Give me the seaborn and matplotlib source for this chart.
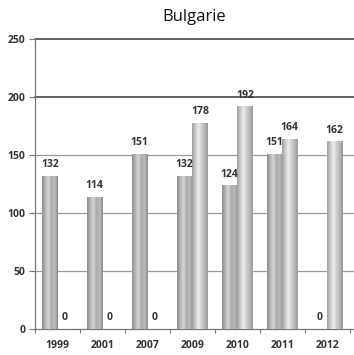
import numpy as np
import pandas as pd
import matplotlib
matplotlib.use("Agg")
import matplotlib.pyplot as plt
from matplotlib.colors import LinearSegmentedColormap
import seaborn as sns

# Data
years = ["1999", "2001", "2007", "2009", "2010", "2011", "2012"]
series_a = [132, 114, 151, 132, 124, 151, 0]
series_b = [0, 0, 0, 178, 192, 164, 162]
y_ticks = [0, 50, 100, 150, 200, 250]
title = "Bulgarie"

df = pd.DataFrame({
    "year": years * 2,
    "value": series_a + series_b,
    "series": ["A"] * len(years) + ["B"] * len(years),
})

sns.set_style("white")
plt.rcParams["font.family"] = ["Open Sans", "DejaVu Sans"]

fig = plt.figure(figsize=(3.54, 3.55), dpi=100)
ax = fig.add_axes([35 / 354, 26 / 355, 1 - 35 / 354, (329 - 39) / 355])

sns.barplot(data=df, x="year", y="value", hue="series", order=years,
            hue_order=["A", "B"], width=0.68, palette=["#999999", "#bbbbbb"],
            legend=False, ax=ax, zorder=3)

# Cylinder-like horizontal shading for each bar
shade_a = LinearSegmentedColormap.from_list(
    "shade_a", ["#8c8c8c", "#b4b4b4", "#d8d8d8", "#a8a8a8", "#bdbdbd", "#8a8a8a"])
shade_b = LinearSegmentedColormap.from_list(
    "shade_b", ["#a0a0a0", "#c8c8c8", "#eeeeee", "#d0d0d0", "#b8b8b8", "#9a9a9a"])
grad = np.linspace(0, 1, 64).reshape(1, -1)

for container, cmap in zip(ax.containers, [shade_a, shade_b]):
    for bar in container:
        h = bar.get_height()
        x0 = bar.get_x()
        w = bar.get_width()
        if h > 0:
            im = ax.imshow(grad, cmap=cmap, aspect="auto",
                           extent=(x0, x0 + w, 0, h), zorder=3,
                           interpolation="bicubic")
            im.set_clip_path(bar)
        bar.set_facecolor("none")
        bar.set_edgecolor("none")
        ax.annotate(f"{int(h)}", (x0 + w / 2, h), xytext=(0, 4),
                    textcoords="offset points", ha="center", va="bottom",
                    fontsize=7.5, fontweight="bold", color="#333333", zorder=5)

ax.set_xlim(-0.5, 6.6)
ax.set_ylim(0, 250)
ax.set_yticks(y_ticks)
ax.set_yticklabels([str(t) for t in y_ticks], fontsize=7.5,
                   fontweight="bold", color="#333333")
ax.set_xticks(range(len(years)))
ax.set_xticklabels(years, fontsize=7.5, fontweight="bold", color="#333333")
ax.set_xticks(np.arange(-0.5, len(years), 1.0), minor=True)
ax.tick_params(axis="x", which="major", length=0, pad=8)
ax.tick_params(axis="x", which="minor", length=3, width=0.8, color="#777777",
               direction="out", bottom=True)
ax.tick_params(axis="y", length=4, width=0.8, color="#777777", pad=3,
               direction="out", left=True)
ax.set_xlabel("")
ax.set_ylabel("")

# Horizontal reference lines
for t in y_ticks[1:]:
    dark = t >= 200
    ax.axhline(t, color="#555555" if dark else "#9a9a9a",
               lw=1.3 if dark else 0.9, zorder=1, clip_on=False)

for side in ["top", "right"]:
    ax.spines[side].set_visible(False)
for side in ["left", "bottom"]:
    ax.spines[side].set_color("#777777")
    ax.spines[side].set_linewidth(0.9)

fig.text((35 + 354) / 2 / 354, 1 - 17 / 355, title, ha="center", va="center",
         fontsize=12, color="#111111")

fig.savefig("out.png", dpi=100)
